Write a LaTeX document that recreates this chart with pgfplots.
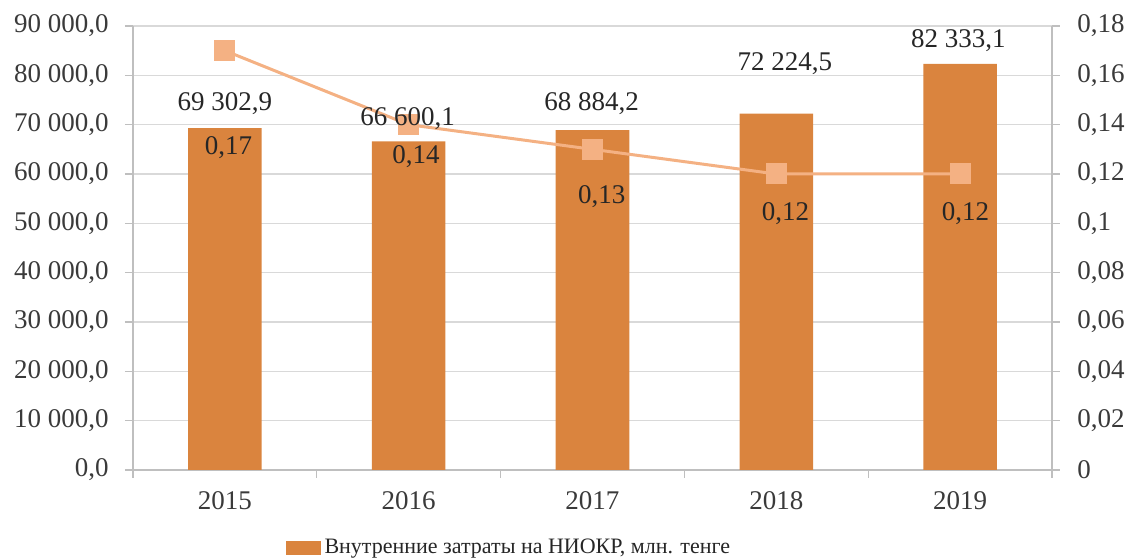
\documentclass[border=0pt]{standalone}
\usepackage{pgfplots}
\pgfplotsset{compat=1.18}
\usepackage{fontspec}
\setmainfont{Liberation Serif}
\definecolor{barc}{HTML}{DA843E}
\definecolor{linec}{HTML}{F4B183}
\definecolor{gridc}{HTML}{D9D9D9}
\definecolor{axisc}{HTML}{BFBFBF}
\definecolor{txt}{HTML}{3A3A3A}
\definecolor{lbl}{HTML}{262626}
\begin{document}
\fontsize{13.5}{16}\selectfont
\begin{tikzpicture}
\useasboundingbox (-66.5pt,-45pt) rectangle (496.5pt,235pt);
\pgfplotsset{
  base/.style={
    scale only axis, width=459.5pt, height=222pt,
    at={(0pt,0pt)}, anchor=south west,
    xmin=-0.5, xmax=4.5,
    ticklabel style={text=txt},
    tick style={axisc, line width=0.6pt},
    axis line style={axisc, line width=0.6pt},
    tick align=outside,
    major tick length=4pt,
    minor tick length=4pt,
    scaled ticks=false,
  }
}
\begin{axis}[base,
  ymin=0, ymax=90000,
  axis x line*=bottom, axis y line*=left,
  ytick={0,10000,20000,30000,40000,50000,60000,70000,80000,90000},
  yticklabels={{0,0},{10 000,0},{20 000,0},{30 000,0},{40 000,0},{50 000,0},{60 000,0},{70 000,0},{80 000,0},{90 000,0}},
  yticklabel style={xshift=-3.5pt},
  xticklabel style={yshift=-2pt},
  ymajorgrids, grid style={gridc, line width=0.6pt},
  xtick={0,1,2,3,4}, xticklabels={2015,2016,2017,2018,2019},
  major x tick style={draw=none},
  minor xtick={-0.5,0.5,1.5,2.5,3.5,4.5},
  legend style={at={(0.41,-0.176)}, anchor=center, draw=none, fill=none, text=lbl, font=\fontsize{11}{13}\selectfont},
  legend image code/.code={\fill[barc] (0pt,-3.5pt) rectangle (17.5pt,3.5pt);},
]
\addplot[ybar, bar width=0.4, fill=barc, draw=none] coordinates {(0,69302.9) (1,66600.1) (2,68884.2) (3,72224.5) (4,82333.1)};
\addlegendentry{Внутренние затраты на НИОКР, млн. тенге}
\end{axis}
\begin{axis}[base,
  ymin=0, ymax=0.18,
  axis y line*=right, axis x line=none,
  ytick={0,0.02,0.04,0.06,0.08,0.1,0.12,0.14,0.16,0.18},
  yticklabels={{0},{0,02},{0,04},{0,06},{0,08},{0,1},{0,12},{0,14},{0,16},{0,18}},
  yticklabel style={xshift=4pt},
]
\addplot[linec, line width=1.5pt, mark=square*, mark size=4.5pt, mark options={fill=linec, draw=none}] coordinates {(0,0.17) (1,0.14) (2,0.13) (3,0.12) (4,0.12)};
\addplot[draw=none, mark=none, nodes near coords, point meta=explicit symbolic,
  every node near coord/.append style={anchor=center, inner sep=0pt, text=lbl}]
  coordinates {(0.02,0.1305)[0,17] (1.04,0.1269)[0,14] (2.05,0.1107)[0,13] (3.05,0.1038)[0,12] (4.03,0.1038)[0,12]};
\addplot[draw=none, mark=none, nodes near coords, point meta=explicit symbolic,
  every node near coord/.append style={anchor=center, inner sep=0pt, text=lbl}]
  coordinates {(0,0.14838)[69 302,9] (0.994,0.1423)[66 600,1] (1.995,0.14838)[68 884,2] (3.047,0.16459)[72 224,5] (3.99,0.17392)[82 333,1]};
\end{axis}
\end{tikzpicture}
\end{document}
